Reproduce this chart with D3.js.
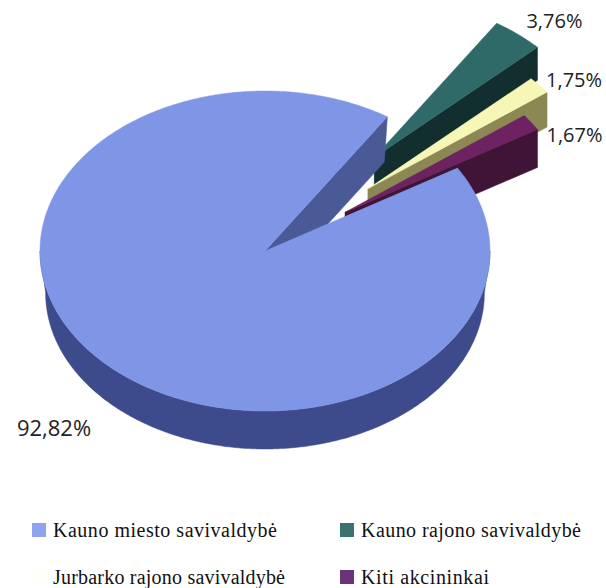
<!DOCTYPE html>
<html>
<head>
<meta charset="utf-8">
<script src="https://cdn.jsdelivr.net/npm/d3@7"></script>
<style>
  html, body { margin: 0; padding: 0; background: #ffffff; }
  svg { display: block; }
</style>
</head>
<body>
<svg id="chart" width="606" height="588"></svg>
<script>
// ---- data ----
const categories = ["Kauno miesto savivaldybė", "Kauno rajono savivaldybė", "Jurbarko rajono savivaldybė", "Kiti akcininkai"];
const values = [92.82, 3.76, 1.75, 1.67];
const valueLabels = ["92,82%", "3,76%", "1,75%", "1,67%"];

// ---- style ----
const topColors  = ["#7f96e7", "#2f6a68", "#f6f7b6", "#6d2262"];
const wallColors = ["#4a5a96", "#132e2e", "#8c8853", "#3f1437"];
const sideColors = ["#3d4a8c", "#1b3a39", "#8c8853", "#3f1437"];
const legendColors = ["#8ea3f0", "#3b7371", "#fefefa", "#6b347a"];
const explode = [0, 0.76, 0.6, 0.43];
const depth = [42, 33, 35, 38];
const bottomScale = [0.975, 1, 1, 1];

const W = 606, H = 588;
const cx = 265, cy = 251, rx = 225, ry = 160;
const svg = d3.select("#chart");

const xs = d3.scaleLinear().domain([-1, 1]).range([cx - rx, cx + rx]);
const ys = d3.scaleLinear().domain([-1, 1]).range([cy + ry, cy - ry]);

const deg = Math.PI / 180;
const start = 58.8 * deg;
const pie = d3.pie().sort(null).startAngle(start).endAngle(start + 2 * Math.PI);
const arcs = pie(values);

// point on slice d at angle a, radius r (unit), top or bottom rim
function P(d, a, r, bottom) {
  const m = (d.startAngle + d.endAngle) / 2;
  const e = explode[d.index];
  const ox = e * Math.sin(m), oy = e * Math.cos(m);
  const s = bottom ? bottomScale[d.index] : 1;
  const ux = ox + s * r * Math.sin(a);
  const uy = oy + s * r * Math.cos(a);
  return [xs(ux), ys(uy) + (bottom ? depth[d.index] : 0)];
}
function arcPts(d, a0, a1, bottom) {
  const n = Math.max(2, Math.ceil((a1 - a0) / (0.5 * deg)));
  return d3.range(n + 1).map(i => P(d, a0 + (a1 - a0) * i / n, 1, bottom));
}
const line = d3.line();

// draw order: farthest (green) first, big slice last
const order = [1, 2, 3, 0];
order.forEach(i => {
  const d = arcs[i];
  const g = svg.append("g");
  const a0 = d.startAngle, a1 = d.endAngle;
  if (Math.sin(a0) < 0) {
    const pts = [P(d, 0, 0, false), P(d, a0, 1, false), P(d, a0, 1, true), P(d, 0, 0, true)];
    g.append("path").attr("d", line(pts) + "Z").attr("fill", wallColors[i]);
  }
  if (Math.sin(a1) > 0) {
    const pts = [P(d, 0, 0, false), P(d, a1, 1, false), P(d, a1, 1, true), P(d, 0, 0, true)];
    g.append("path").attr("d", line(pts) + "Z").attr("fill", wallColors[i])
      .attr("stroke", wallColors[i]).attr("stroke-width", 0.5);
  }
  [0, 2 * Math.PI].forEach(k => {
    const lo = Math.max(a0, Math.PI / 2 + k), hi = Math.min(a1, 1.5 * Math.PI + k);
    if (hi > lo) {
      const topPts = arcPts(d, lo, hi, false);
      const botPts = arcPts(d, lo, hi, true).reverse();
      g.append("path").attr("d", line(topPts.concat(botPts)) + "Z")
        .attr("fill", sideColors[i]).attr("stroke", sideColors[i]).attr("stroke-width", 0.5);
    }
  });
  const topPts = [P(d, 0, 0, false)].concat(arcPts(d, a0, a1, false));
  g.append("path").attr("d", line(topPts) + "Z").attr("fill", topColors[i])
    .attr("stroke", topColors[i]).attr("stroke-width", 0.5);
});

// ---- value labels ----
const labelFont = "'Open Sans', 'DejaVu Sans', sans-serif";
const labelAnchors = [
  { a: 225, dx: -93, dy: 33, size: 22 },
  { a: null, dx: -11, dy: -19, size: 20 },
  { a: null, dx: -1, dy: -5, size: 20 },
  { a: null, dx: 9, dy: 13, size: 20 }
];
arcs.forEach((d, i) => {
  const la = labelAnchors[i];
  const ang = la.a !== null ? la.a * deg : d.endAngle;
  const p = P(d, ang, 1, i === 0);
  svg.append("text")
    .attr("x", p[0] + la.dx).attr("y", p[1] + la.dy)
    .attr("font-family", labelFont).attr("font-size", la.size)
    .attr("fill", "#222").text(valueLabels[i]);
});

// ---- legend ----
const legendFont = "'Liberation Serif', 'Times New Roman', serif";
const legendX = [32, 340];
const legendY = [537, 584];
const legendW = [224, 220, 232, 128];
categories.forEach((c, i) => {
  const col = i % 2, row = Math.floor(i / 2);
  const lg = svg.append("g");
  lg.append("rect").attr("x", legendX[col]).attr("y", legendY[row] - 14)
    .attr("width", 14).attr("height", 14).attr("fill", legendColors[i]);
  lg.append("text").attr("x", legendX[col] + 21).attr("y", legendY[row])
    .attr("font-family", legendFont).attr("font-size", 20).attr("fill", "#111")
    .attr("textLength", legendW[i]).attr("lengthAdjust", "spacing")
    .text(c);
});
</script>
</body>
</html>
